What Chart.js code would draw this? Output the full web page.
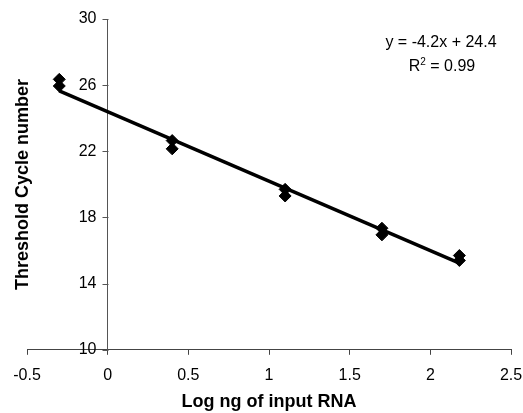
<!DOCTYPE html>
<html>
<head>
<meta charset="utf-8">
<script src="https://cdn.jsdelivr.net/npm/chart.js@4"></script>
<style>
  html, body { margin: 0; padding: 0; background: #fff; }
  #wrap { width: 523px; height: 413px; }
</style>
</head>
<body>
<div id="wrap"><canvas id="stdCurve" width="523" height="413"></canvas></div>
<script>
// Log ng of input RNA (two replicates per dilution)
const logInput = [-0.3, -0.3, 0.4, 0.4, 1.1, 1.1, 1.7, 1.7, 2.18, 2.18];
const thresholdCycle = [26.35, 25.95, 22.65, 22.15, 19.7, 19.3, 17.35, 16.95, 15.7, 15.4];

// fit reported on the figure
const fitSlope = -4.2;
const fitIntercept = 24.4;
const fitLabel = "y = -4.2x + 24.4";
const r2Value = "0.99";

const xTickLabels = ["-0.5", "0", "0.5", "1", "1.5", "2", "2.5"];
const yTickLabels = ["10", "14", "18", "22", "26", "30"];

const points = logInput.map((x, i) => ({ x: x, y: thresholdCycle[i] }));
const minX = Math.min(...logInput);
const maxX = Math.max(...logInput);
const fitLine = [minX, maxX].map((x) => ({ x: x, y: fitSlope * x + fitIntercept }));

const FONT = "'Liberation Sans', Arial, sans-serif";

// y ticks + labels (axis crosses at x = 0), equation text and axis titles
const annotations = {
  id: "annotations",
  afterDraw(chart) {
    const ctx = chart.ctx;
    const xs = chart.scales.x;
    const ys = chart.scales.y;
    const area = chart.chartArea;
    const axisX = Math.round(xs.getPixelForValue(0)) + 0.5;
    ctx.save();

    // tick marks to the left of the y axis
    ctx.strokeStyle = "#555";
    ctx.lineWidth = 1;
    ctx.beginPath();
    yTickLabels.forEach((t) => {
      const py = Math.round(ys.getPixelForValue(parseFloat(t))) + 0.5;
      ctx.moveTo(axisX - 6, py);
      ctx.lineTo(axisX, py);
    });
    ctx.stroke();

    ctx.fillStyle = "#000";
    ctx.textBaseline = "middle";
    ctx.font = "16px " + FONT;
    ctx.textAlign = "right";
    yTickLabels.forEach((t) => {
      ctx.fillText(t, axisX - 12, ys.getPixelForValue(parseFloat(t)));
    });

    ctx.textAlign = "center";
    ctx.fillText(fitLabel, 441, 43);

    // R² with a small superscript
    const rest = " = " + r2Value;
    const wR = ctx.measureText("R").width;
    ctx.font = "10px " + FONT;
    const wSup = ctx.measureText("2").width;
    ctx.font = "16px " + FONT;
    const wRest = ctx.measureText(rest).width;
    let x = 442 - (wR + wSup + wRest) / 2;
    ctx.textAlign = "left";
    ctx.fillText("R", x, 67);
    x += wR;
    ctx.font = "10px " + FONT;
    ctx.fillText("2", x, 62);
    x += wSup;
    ctx.font = "16px " + FONT;
    ctx.fillText(rest, x, 67);

    // axis titles
    ctx.font = "bold 18px " + FONT;
    ctx.textAlign = "center";
    ctx.fillText("Log ng of input RNA", (area.left + area.right) / 2, 402);
    ctx.translate(23, (area.top + area.bottom) / 2);
    ctx.rotate(-Math.PI / 2);
    ctx.fillText("Threshold Cycle number", 0, 0);
    ctx.restore();
  },
};

new Chart(document.getElementById("stdCurve"), {
  type: "scatter",
  data: {
    datasets: [
      {
        label: "Fit",
        type: "line",
        data: fitLine,
        borderColor: "#000",
        borderWidth: 3.5,
        pointRadius: 0,
        fill: false,
        order: 2,
      },
      {
        label: "Samples",
        data: points,
        pointStyle: "rectRot",
        pointRadius: 6,
        backgroundColor: "#000",
        borderColor: "#000",
        order: 1,
      },
    ],
  },
  options: {
    responsive: false,
    animation: false,
    layout: {
      padding: { left: 27, right: 12, top: 19, bottom: 17 },
    },
    plugins: {
      legend: { display: false },
      tooltip: { enabled: false },
    },
    scales: {
      x: {
        type: "linear",
        position: "bottom",
        min: -0.5,
        max: 2.5,
        afterBuildTicks(scale) {
          scale.ticks = xTickLabels.map((t) => ({ value: parseFloat(t) }));
        },
        afterFit(scale) {
          scale.paddingLeft = 0;
          scale.paddingRight = 0;
        },
        ticks: {
          color: "#000",
          font: { family: FONT, size: 16 },
          padding: 11,
          maxRotation: 0,
          autoSkip: false,
          callback: (v) => xTickLabels.find((t) => parseFloat(t) === v),
        },
        grid: {
          drawOnChartArea: false,
          tickLength: 5,
          color: "#444",
        },
        border: { color: "#444", width: 1 },
      },
      y: {
        type: "linear",
        position: { x: 0 },
        min: 10,
        max: 30,
        afterBuildTicks(scale) {
          scale.ticks = yTickLabels.map((t) => ({ value: parseFloat(t) }));
        },
        afterFit(scale) {
          scale.width = 0;
          scale.paddingTop = 0;
          scale.paddingBottom = 0;
        },
        ticks: { display: false },
        grid: {
          drawOnChartArea: false,
          drawTicks: false,
        },
        border: { color: "#555", width: 1 },
      },
    },
  },
  plugins: [annotations],
});
</script>
</body>
</html>
